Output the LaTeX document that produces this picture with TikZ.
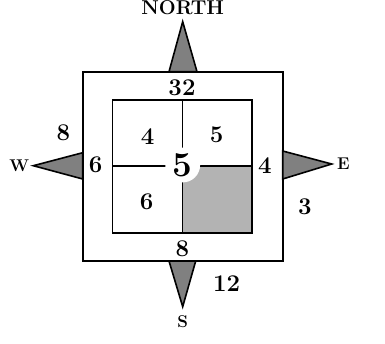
\documentclass[tikz,border=0pt]{standalone}
\usepackage{fontspec}
\usepackage{tikz}
\definecolor{cellgray}{RGB}{179,179,179}
\definecolor{tipgray}{RGB}{128,128,128}

\begin{document}
\begin{tikzpicture}[x=1pt,y=-1pt,
  frame/.style={draw=black,line width=1.6pt},
  tip/.style={draw=black,fill=tipgray,line width=1.6pt,line join=miter},
  num/.style={font=\fontsize{24}{24}\selectfont\bfseries,inner sep=0pt},
  dirlbl/.style={font=\fontsize{17}{17}\selectfont\bfseries,inner sep=0pt},
]
\useasboundingbox (0,0) rectangle (385,343);
% shaded cell and squares
\fill[cellgray] (182.3,165.7) rectangle (251.7,232.7);
\draw[frame] (82.7,71.7) rectangle (282.7,261);
\draw[frame] (112.3,100) rectangle (251.7,232.7);
\draw[frame] (182.3,100) -- (182.3,232.7);
\draw[frame] (112.3,165.7) -- (251.7,165.7);
% pointers
\draw[tip] (169,71.7) -- (182.7,21.7) -- (197,71.7) -- cycle;
\draw[tip] (169,261) -- (182.7,306.7) -- (195.7,261) -- cycle;
\draw[tip] (82.7,152.7) -- (33.3,165.7) -- (82.7,179) -- cycle;
\draw[tip] (282.7,151) -- (331.7,164) -- (282.7,179) -- cycle;
% direction labels
\node[dirlbl,font=\fontsize{20}{20}\selectfont\bfseries] (north) at (182.7,8) {NORTH};
\node[dirlbl] (west) at (19.3,165.7) {W};
\node[dirlbl] (east) at (343.3,164) {E};
\node[dirlbl] (south) at (182.7,321.7) {S};
% numbers
\node[num,fill=white,circle,inner sep=1.5pt,font=\fontsize{35}{35}\selectfont\bfseries] (centre) at (182.7,165) {5};
\node[num] (top) at (182,87.7) {32};
\node[num] (bottom) at (182.3,248.3) {8};
\node[num] (left) at (95.7,165) {6};
\node[num] (right) at (265,165.7) {4};
\node[num] (nw) at (147.7,136.7) {4};
\node[num] (ne) at (216.7,135) {5};
\node[num] (sw) at (146.7,201.7) {6};
\node[num] (wout) at (63.3,132.7) {8};
\node[num] (eout) at (305,206.7) {3};
\node[num] (sout) at (226.7,283.3) {12};
\end{tikzpicture}
\end{document}
